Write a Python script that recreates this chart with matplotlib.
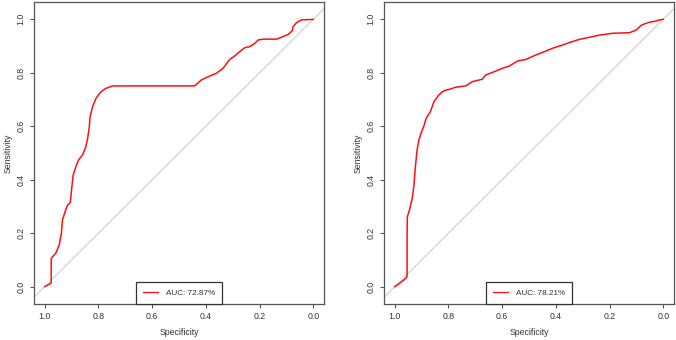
import matplotlib
matplotlib.use("Agg")
import matplotlib.pyplot as plt

plt.rcParams['font.family'] = ['Liberation Sans', 'DejaVu Sans']

# Left ROC curve (specificity, sensitivity)
spec_left = [1.0, 0.978, 0.976, 0.976, 0.959, 0.946, 0.938, 0.934, 0.922, 0.915, 0.905,
             0.899, 0.894, 0.884, 0.874, 0.859, 0.849, 0.841, 0.834, 0.831, 0.822,
             0.809, 0.791, 0.772, 0.747, 0.697, 0.442, 0.417, 0.386, 0.361, 0.336,
             0.311, 0.293, 0.274, 0.255, 0.237, 0.218, 0.205, 0.187, 0.137, 0.118,
             0.093, 0.078, 0.075, 0.062, 0.044, 0.0]
sens_left = [0.0, 0.012, 0.015, 0.106, 0.125, 0.156, 0.2, 0.249, 0.287, 0.305, 0.314,
             0.374, 0.418, 0.449, 0.474, 0.493, 0.517, 0.549, 0.599, 0.636, 0.673,
             0.705, 0.729, 0.742, 0.751, 0.751, 0.751, 0.773, 0.788, 0.798, 0.817,
             0.850, 0.863, 0.879, 0.894, 0.898, 0.910, 0.923, 0.926, 0.926, 0.933,
             0.944, 0.958, 0.973, 0.988, 0.998, 1.0]
auc_left = "AUC: 72.87%"

# Right ROC curve
spec_right = [1.0, 0.985, 0.966, 0.956, 0.954, 0.954, 0.953, 0.945, 0.935, 0.929, 0.923,
              0.917, 0.910, 0.900, 0.892, 0.883, 0.867, 0.854, 0.836, 0.817, 0.798,
              0.773, 0.736, 0.711, 0.674, 0.661, 0.630, 0.599, 0.574, 0.543, 0.512,
              0.474, 0.443, 0.412, 0.375, 0.350, 0.313, 0.275, 0.238, 0.188, 0.126,
              0.101, 0.082, 0.057, 0.026, 0.014, 0.0]
sens_right = [0.0, 0.010, 0.025, 0.034, 0.044, 0.2, 0.262, 0.287, 0.330, 0.374, 0.449,
              0.511, 0.549, 0.580, 0.599, 0.630, 0.655, 0.692, 0.717, 0.733, 0.738,
              0.746, 0.751, 0.767, 0.776, 0.792, 0.804, 0.817, 0.825, 0.844, 0.850,
              0.867, 0.879, 0.892, 0.904, 0.913, 0.925, 0.933, 0.941, 0.948, 0.950,
              0.960, 0.978, 0.988, 0.994, 0.998, 1.0]
auc_right = "AUC: 78.21%"

ticks = [1.0, 0.8, 0.6, 0.4, 0.2, 0.0]
tick_labels = ["1.0", "0.8", "0.6", "0.4", "0.2", "0.0"]

W, H = 676, 340
fig = plt.figure(figsize=(W / 100, H / 100), dpi=100)

frame_col = "#555555"
text_col = "#333333"

def make_ax(left_px, right_px, spec, sens, label):
    ax = fig.add_axes([left_px / W, (H - 304) / H, (right_px - left_px) / W, 302 / H])
    ax.axline((1, 0), (0, 1), color="#d3d3d3", lw=0.9, zorder=1)
    ax.plot(spec, sens, color="#ff1010", lw=1.1, zorder=3, label=label)
    ax.set_xlim(1.04, -0.04)
    ax.set_ylim(-0.065, 1.065)
    ax.set_xticks(ticks)
    ax.set_xticklabels(tick_labels)
    ax.set_yticks(ticks)
    ax.set_yticklabels(tick_labels, rotation=90, va="center")
    ax.tick_params(axis="both", labelsize=6.3, length=3, width=0.8,
                   color=frame_col, labelcolor=text_col, pad=3)
    for s in ax.spines.values():
        s.set_color(frame_col)
        s.set_linewidth(0.9)
    ax.set_xlabel("Specificity", fontsize=6.3, color=text_col, labelpad=5)
    ax.set_ylabel("Sensitivity", fontsize=6.3, color=text_col, labelpad=3)
    leg = ax.legend(loc="lower center", borderaxespad=0, fancybox=False,
                    fontsize=5.9, handlelength=1.8, handletextpad=1.0,
                    borderpad=0.9, labelcolor=text_col, framealpha=1)
    leg.get_frame().set_edgecolor("#333333")
    leg.get_frame().set_linewidth(0.9)
    for ln in leg.get_lines():
        ln.set_linewidth(0.9)
    return ax

make_ax(34, 324, spec_left, sens_left, auc_left)
make_ax(384, 674, spec_right, sens_right, auc_right)

fig.savefig("out.png", dpi=100)
